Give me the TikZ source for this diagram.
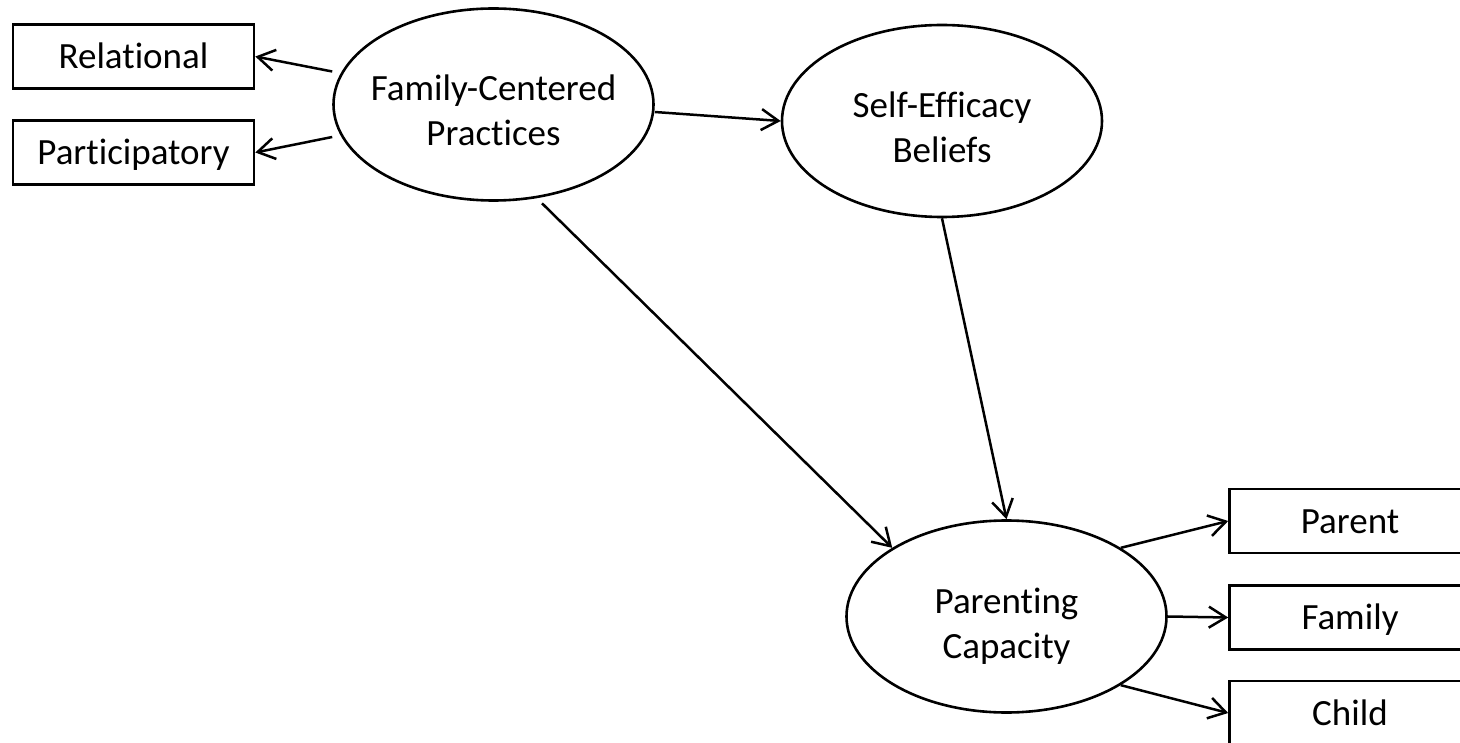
\documentclass[tikz,border=0pt]{standalone}
\usepackage{fontspec}
\setmainfont{Carlito}[Ligatures={NoCommon,NoContextual}]
\usetikzlibrary{shapes.geometric,arrows.meta,calc}
\newcommand{\twoln}[2]{\smash{\makebox[0pt]{\raisebox{3.5pt}{#1}}\makebox[0pt]{\raisebox{-41.5pt}{#2}}}}
\begin{document}
\begin{tikzpicture}[x=1pt,y=-1pt,
  latent/.style={draw,ellipse,line width=2.6pt,minimum width=320pt,minimum height=192pt,inner sep=0pt,font=\fontsize{37}{45}\selectfont},
  indic/.style={draw,rectangle,line width=2.6pt,minimum width=241pt,minimum height=64pt,inner sep=0pt,text height=24pt,text depth=0pt,font=\fontsize{37}{45}\selectfont},
  arr/.style={line width=2.5pt,-{Straight Barb[length=17pt,width=21pt]}}]
\useasboundingbox (0,0) rectangle (1460,743);
\clip (0,0) rectangle (1460,743);
% latent variables
\node[latent] (FC) at (493.5,104.5) {\twoln{Family-Centered}{Practices}};
\node[latent] (SE) at (942,121) {\twoln{Self-Efficacy}{Beliefs}};
\node[latent] (PC) at (1006.5,616.5) {\twoln{Parenting}{Capacity}};
% indicators
\node[indic] (Rel) at (133.5,56.5) {Relational};
\node[indic] (Part) at (133.5,152.5) {Participatory};
\node[indic] (Par) at (1350,521) {Parent};
\node[indic] (Fam) at (1350,617.5) {Family};
\node[indic] (Chi) at (1350,713) {Child};
% connectors
\draw[arr] ($(FC.west)+(0,-33)$) -- (Rel.east);
\draw[arr] ($(FC.west)+(0,32.5)$) -- (Part.east);
\draw[arr] ($(FC.east)+(0,7.5)$) -- (SE.west);
\draw[arr] ($(FC.south)+(48.5,1.5)$) -- (PC.149);
\draw[arr] (SE.south) -- (PC.north);
\draw[arr] (PC.31) -- (Par.west);
\draw[arr] (PC.east) -- (Fam.west);
\draw[arr] (PC.-31) -- (Chi.west);
\end{tikzpicture}
\end{document}
